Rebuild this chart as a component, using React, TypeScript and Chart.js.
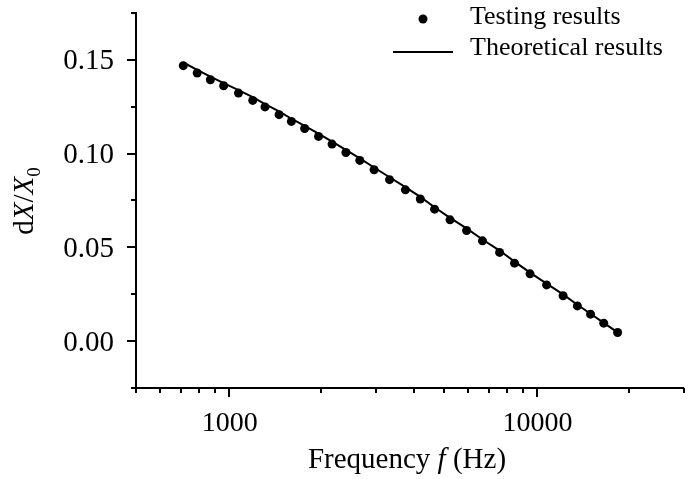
import React, { useEffect, useRef } from "react";
import { Chart, registerables } from "chart.js";

Chart.register(...registerables);

// ---- data ----
const frequencies = [
  712, 790, 872, 963, 1076, 1197, 1312, 1458, 1598, 1765, 1958, 2166, 2403, 2666, 2966,
  3330, 3749, 4191, 4663, 5234, 5925, 6672, 7584, 8479, 9522, 10777, 12190, 13565, 14972,
  16520, 18330,
];
const testingResults = [
  0.1469, 0.143, 0.1394, 0.1362, 0.1323, 0.1284, 0.1249, 0.1208, 0.1172, 0.1134, 0.1092,
  0.1051, 0.1006, 0.0964, 0.0914, 0.0861, 0.0807, 0.0758, 0.0704, 0.0647, 0.059, 0.0535,
  0.0473, 0.0416, 0.0359, 0.03, 0.0242, 0.0188, 0.0144, 0.0096, 0.0046,
];
const theoreticalResults = [
  0.1486, 0.1447, 0.1411, 0.1376, 0.1339, 0.1301, 0.1264, 0.1225, 0.1186, 0.1148, 0.1107,
  0.1064, 0.102, 0.0975, 0.0926, 0.0874, 0.0821, 0.0769, 0.0714, 0.0657, 0.0601, 0.0542,
  0.0483, 0.0424, 0.0365, 0.0307, 0.0249, 0.0194, 0.0146, 0.0097, 0.0047,
];
const xMajorTicks = [1000, 10000];
const xTickLabels = ["1000", "10000"];
const xMinorTicks = [500, 600, 700, 800, 900, 2000, 3000, 4000, 5000, 6000, 7000, 8000, 9000, 20000, 30000];
const yMajorTicks = [0, 0.05, 0.1, 0.15];
const yTickLabels = ["0.00", "0.05", "0.10", "0.15"];
const yMinorTicks = [-0.025, 0.025, 0.075, 0.125, 0.175];
const legendLabels = ["Testing results", "Theoretical results"];

const FONT = '"Liberation Serif", "Times New Roman", serif';

const decorPlugin = {
  id: "decor",
  afterDraw(chart: any) {
    const ctx: CanvasRenderingContext2D = chart.ctx;
    const xs = chart.scales.x;
    const ys = chart.scales.y;
    const area = chart.chartArea;
    ctx.save();
    ctx.strokeStyle = "#000";
    ctx.fillStyle = "#000";
    ctx.lineWidth = 2;
    // x tick marks
    const drawX = (v: number, len: number) => {
      const px = Math.round(xs.getPixelForValue(v));
      ctx.beginPath();
      ctx.moveTo(px, area.bottom);
      ctx.lineTo(px, area.bottom + len);
      ctx.stroke();
    };
    xMajorTicks.forEach((v) => drawX(v, 9));
    xMinorTicks.forEach((v) => drawX(v, 5));
    const drawY = (v: number, len: number) => {
      const py = Math.round(ys.getPixelForValue(v));
      ctx.beginPath();
      ctx.moveTo(area.left, py);
      ctx.lineTo(area.left - len, py);
      ctx.stroke();
    };
    yMajorTicks.forEach((v) => drawY(v, 9));
    yMinorTicks.forEach((v) => drawY(v, 5));

    // tick labels
    ctx.textBaseline = "alphabetic";
    ctx.font = `28px ${FONT}`;
    ctx.textAlign = "center";
    xMajorTicks.forEach((v, i) => {
      const px = xs.getPixelForValue(v);
      ctx.fillText(xTickLabels[i], px + 1, 431);
    });
    ctx.font = `29px ${FONT}`;
    ctx.textAlign = "right";
    yMajorTicks.forEach((v, i) => {
      const py = ys.getPixelForValue(v);
      ctx.fillText(yTickLabels[i], area.left - 22, py + 9.5);
    });

    // legend
    ctx.textAlign = "left";
    ctx.font = `26px ${FONT}`;
    ctx.beginPath();
    ctx.arc(423, 19, 4.5, 0, Math.PI * 2);
    ctx.fill();
    ctx.fillText(legendLabels[0], 470, 24);
    ctx.beginPath();
    ctx.moveTo(393, 52);
    ctx.lineTo(453, 52);
    ctx.stroke();
    ctx.fillText(legendLabels[1], 470, 55);

    // x title: Frequency f (Hz)
    const partsX: [string, string][] = [
      ["Frequency ", `29px ${FONT}`],
      ["f", `italic 29px ${FONT}`],
      [" (Hz)", `29px ${FONT}`],
    ];
    let total = 0;
    partsX.forEach(([t, f]) => {
      ctx.font = f;
      total += ctx.measureText(t).width;
    });
    let cx = 407 - total / 2;
    partsX.forEach(([t, f]) => {
      ctx.font = f;
      ctx.fillText(t, cx, 468);
      cx += ctx.measureText(t).width;
    });

    // y title: dX/X0
    const partsY: [string, string, number][] = [
      ["d", `29px ${FONT}`, 0],
      ["X", `italic 29px ${FONT}`, 0],
      ["/", `29px ${FONT}`, 0],
      ["X", `italic 29px ${FONT}`, 0],
      ["0", `19px ${FONT}`, 7],
    ];
    let totalY = 0;
    partsY.forEach(([t, f]) => {
      ctx.font = f;
      totalY += ctx.measureText(t).width;
    });
    ctx.translate(33, 201 + totalY / 2);
    ctx.rotate(-Math.PI / 2);
    let cy = 0;
    partsY.forEach(([t, f, dy]) => {
      ctx.font = f;
      ctx.fillText(t, cy, dy);
      cy += ctx.measureText(t).width;
    });
    ctx.restore();
  },
};

export default function App() {
  const ref = useRef<HTMLCanvasElement | null>(null);
  useEffect(() => {
    if (!ref.current) return;
    const chart = new Chart(ref.current, {
      type: "line",
      data: {
        datasets: [
          {
            label: legendLabels[1],
            data: frequencies.map((f, i) => ({ x: f, y: theoreticalResults[i] })),
            borderColor: "#000",
            borderWidth: 2,
            pointRadius: 0,
            fill: false,
            tension: 0,
            order: 2,
          },
          {
            label: legendLabels[0],
            data: frequencies.map((f, i) => ({ x: f, y: testingResults[i] })),
            showLine: false,
            pointRadius: 4.5,
            pointBackgroundColor: "#000",
            pointBorderWidth: 0,
            borderColor: "#000",
            backgroundColor: "#000",
            order: 1,
          },
        ],
      },
      options: {
        animation: false,
        responsive: false,
        layout: { padding: { top: 13, right: 0, bottom: 0, left: 0 } },
        plugins: { legend: { display: false }, tooltip: { enabled: false } },
        scales: {
          x: {
            type: "logarithmic",
            min: 500,
            max: 30000,
            grid: { display: false },
            border: { display: true, color: "#000", width: 2 },
            ticks: { display: false },
            afterFit: (s: any) => {
              s.height = 91;
              s.paddingLeft = 0;
              s.paddingRight = 0;
            },
          },
          y: {
            type: "linear",
            min: -0.025,
            max: 0.175,
            grid: { display: false },
            border: { display: true, color: "#000", width: 2 },
            ticks: { display: false, stepSize: 0.025 },
            afterFit: (s: any) => {
              s.width = 136;
              s.paddingTop = 0;
              s.paddingBottom = 0;
            },
          },
        },
      },
      plugins: [decorPlugin],
    } as any);
    return () => chart.destroy();
  }, []);
  return (
    <div style={{ position: "absolute", left: 0, top: 0, width: 688, height: 479, background: "#fff" }}>
      <canvas ref={ref} width={688} height={479} />
    </div>
  );
}
